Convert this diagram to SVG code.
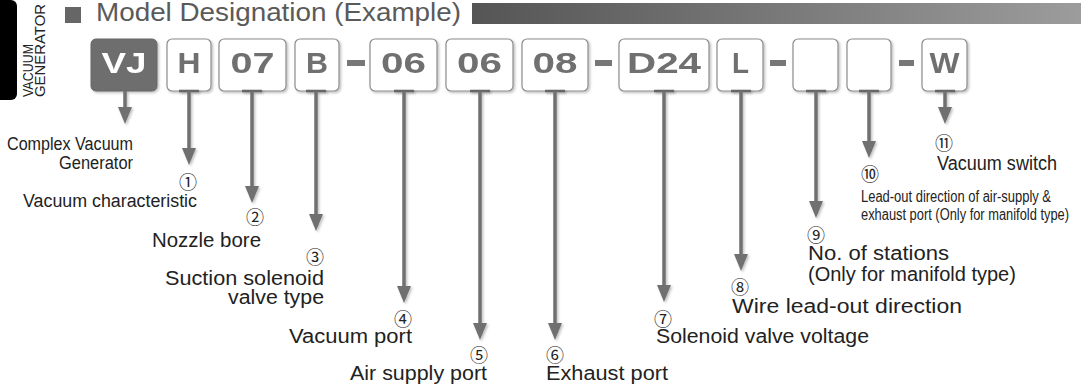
<svg xmlns="http://www.w3.org/2000/svg" width="1081" height="388" viewBox="0 0 1081 388">
<style>
.box{fill:#fff;stroke:#8c8c8c;stroke-width:1.2}
.boxd{fill:#6e6e6e;stroke:#666;stroke-width:1}
.code{font-family:"Liberation Sans",Arial,sans-serif;font-weight:bold;font-size:29px;fill:#707070;text-anchor:middle}
.codew{fill:#fff}
.dash{fill:#777}
.ln{stroke:#707070;stroke-width:3.5;fill:none}
.tick{stroke:#666;stroke-width:2.5}
.lbl{font-family:"Liberation Sans",Arial,sans-serif;font-size:20px;fill:#222}
.cnd{font-family:"Liberation Sans",Arial,sans-serif;font-size:18px;fill:#222}
.sml{font-family:"Liberation Sans",Arial,sans-serif;font-size:16px;fill:#222}
.num{font-family:"Noto Sans CJK JP","DejaVu Sans",sans-serif;font-size:18px;fill:#222;text-anchor:middle;dominant-baseline:central}
.side{font-family:"Liberation Sans",Arial,sans-serif;font-size:14px;fill:#222}
</style>
<defs>
<linearGradient id="bar" x1="0" y1="0" x2="1" y2="0">
<stop offset="0" stop-color="#555"/>
<stop offset="1" stop-color="#9c9c9c"/>
</linearGradient>
<filter id="sh" x="-20%" y="-20%" width="140%" height="140%">
<feDropShadow dx="1.5" dy="1.5" stdDeviation="1" flood-color="#000" flood-opacity="0.25"/>
</filter>
<marker id="ah" viewBox="0 0 17 14" refX="5" refY="7" markerWidth="17" markerHeight="14" markerUnits="userSpaceOnUse" orient="auto">
<path d="M0,0 L17,7 L0,14 z" fill="#707070"/>
</marker>
</defs>

<g id="side-tab">
<path d="M0,0 H11 A6,6 0 0 1 17,6 V94 A6,6 0 0 1 11,100 H0 z" fill="#000"/>
<text class="side" transform="translate(33,97) rotate(-90)" textLength="53" lengthAdjust="spacingAndGlyphs">VACUUM</text>
<text class="side" transform="translate(45,97) rotate(-90)" textLength="93" lengthAdjust="spacingAndGlyphs">GENERATOR</text>
</g>

<g id="header">
<rect x="65" y="7" width="16" height="16" fill="#666"/>
<text x="96" y="21" font-family="'Liberation Sans',Arial,sans-serif" font-size="25" fill="#5a5a5a" textLength="365" lengthAdjust="spacingAndGlyphs">Model Designation (Example)</text>
<rect x="472" y="3" width="609" height="21" fill="url(#bar)"/>
</g>

<g id="dashes">
<rect class="dash" x="347" y="60" width="18" height="6"/>
<rect class="dash" x="595" y="60" width="17" height="6"/>
<rect class="dash" x="770" y="60" width="16" height="6"/>
<rect class="dash" x="899" y="60" width="15" height="6"/>
</g>

<g id="box-vj" filter="url(#sh)"><rect class="boxd" x="91" y="39" width="66" height="52" rx="5"/><text class="code codew" x="124" y="73" textLength="45" lengthAdjust="spacingAndGlyphs">VJ</text></g>
<g id="box-h" filter="url(#sh)"><rect class="box" x="167" y="39" width="44" height="52" rx="5"/><text class="code" x="189" y="73" textLength="23" lengthAdjust="spacingAndGlyphs">H</text></g>
<g id="box-07" filter="url(#sh)"><rect class="box" x="219" y="39" width="67" height="52" rx="5"/><text class="code" x="252.5" y="73" textLength="44" lengthAdjust="spacingAndGlyphs">07</text></g>
<g id="box-b" filter="url(#sh)"><rect class="box" x="295" y="39" width="44" height="52" rx="5"/><text class="code" x="317" y="73" textLength="22" lengthAdjust="spacingAndGlyphs">B</text></g>
<g id="box-06a" filter="url(#sh)"><rect class="box" x="370" y="39" width="67" height="52" rx="5"/><text class="code" x="403.5" y="73" textLength="45" lengthAdjust="spacingAndGlyphs">06</text></g>
<g id="box-06b" filter="url(#sh)"><rect class="box" x="446" y="39" width="67" height="52" rx="5"/><text class="code" x="479.5" y="73" textLength="45" lengthAdjust="spacingAndGlyphs">06</text></g>
<g id="box-08" filter="url(#sh)"><rect class="box" x="522" y="39" width="66" height="52" rx="5"/><text class="code" x="555" y="73" textLength="45" lengthAdjust="spacingAndGlyphs">08</text></g>
<g id="box-d24" filter="url(#sh)"><rect class="box" x="619" y="39" width="90" height="52" rx="5"/><text class="code" x="664" y="73" textLength="74" lengthAdjust="spacingAndGlyphs">D24</text></g>
<g id="box-l" filter="url(#sh)"><rect class="box" x="717" y="39" width="46" height="52" rx="5"/><text class="code" x="740.5" y="73" textLength="17" lengthAdjust="spacingAndGlyphs">L</text></g>
<g id="box-9" filter="url(#sh)"><rect class="box" x="793" y="39" width="45" height="52" rx="5"/></g>
<g id="box-10" filter="url(#sh)"><rect class="box" x="847" y="39" width="44" height="52" rx="5"/></g>
<g id="box-w" filter="url(#sh)"><rect class="box" x="922" y="39" width="45" height="52" rx="5"/><text class="code" x="944.5" y="73" textLength="30" lengthAdjust="spacingAndGlyphs">W</text></g>

<g id="connectors" filter="url(#sh)">
<line class="tick" x1="179" y1="91" x2="199" y2="91"/>
<line class="tick" x1="242" y1="91" x2="262" y2="91"/>
<line class="tick" x1="306" y1="91" x2="326" y2="91"/>
<line class="tick" x1="394" y1="91" x2="414" y2="91"/>
<line class="tick" x1="470" y1="91" x2="490" y2="91"/>
<line class="tick" x1="545" y1="91" x2="565" y2="91"/>
<line class="tick" x1="654" y1="91" x2="674" y2="91"/>
<line class="tick" x1="731" y1="91" x2="751" y2="91"/>
<line class="tick" x1="806" y1="91" x2="826" y2="91"/>
<line class="tick" x1="859" y1="91" x2="879" y2="91"/>
<line class="tick" x1="935" y1="91" x2="955" y2="91"/>
<line class="ln" x1="125" y1="91" x2="125" y2="112" marker-end="url(#ah)"/>
<line class="ln" x1="189" y1="91" x2="189" y2="153" marker-end="url(#ah)"/>
<line class="ln" x1="252" y1="91" x2="252" y2="191" marker-end="url(#ah)"/>
<line class="ln" x1="316" y1="91" x2="316" y2="219" marker-end="url(#ah)"/>
<line class="ln" x1="404" y1="91" x2="404" y2="291" marker-end="url(#ah)"/>
<line class="ln" x1="480" y1="91" x2="480" y2="328" marker-end="url(#ah)"/>
<line class="ln" x1="555" y1="91" x2="555" y2="328" marker-end="url(#ah)"/>
<line class="ln" x1="664" y1="91" x2="664" y2="290" marker-end="url(#ah)"/>
<line class="ln" x1="741" y1="91" x2="741" y2="259" marker-end="url(#ah)"/>
<line class="ln" x1="816" y1="91" x2="816" y2="206" marker-end="url(#ah)"/>
<line class="ln" x1="869" y1="91" x2="869" y2="146" marker-end="url(#ah)"/>
<line class="ln" x1="945" y1="91" x2="945" y2="112" marker-end="url(#ah)"/>
</g>

<g id="labels">
<text class="cnd" x="7" y="150" textLength="126" lengthAdjust="spacingAndGlyphs">Complex Vacuum</text>
<text class="cnd" x="59" y="169" textLength="74" lengthAdjust="spacingAndGlyphs">Generator</text>
<text class="num" x="188" y="181">①</text>
<text class="cnd" x="23" y="207" textLength="174" lengthAdjust="spacingAndGlyphs">Vacuum characteristic</text>
<text class="num" x="255" y="216">②</text>
<text class="lbl" x="152" y="247" textLength="109" lengthAdjust="spacingAndGlyphs">Nozzle bore</text>
<text class="num" x="315" y="255.5">③</text>
<text class="lbl" x="165" y="285" textLength="159" lengthAdjust="spacingAndGlyphs">Suction solenoid</text>
<text class="lbl" x="228" y="304" textLength="96" lengthAdjust="spacingAndGlyphs">valve type</text>
<text class="num" x="403" y="317.5">④</text>
<text class="lbl" x="289" y="343" textLength="123" lengthAdjust="spacingAndGlyphs">Vacuum port</text>
<text class="num" x="479" y="354">⑤</text>
<text class="lbl" x="350" y="380" textLength="137" lengthAdjust="spacingAndGlyphs">Air supply port</text>
<text class="num" x="555" y="354">⑥</text>
<text class="lbl" x="546" y="380" textLength="122" lengthAdjust="spacingAndGlyphs">Exhaust port</text>
<text class="num" x="663" y="317.5">⑦</text>
<text class="lbl" x="656" y="343" textLength="213" lengthAdjust="spacingAndGlyphs">Solenoid valve voltage</text>
<text class="num" x="740" y="286">⑧</text>
<text class="lbl" x="732" y="313" textLength="230" lengthAdjust="spacingAndGlyphs">Wire lead-out direction</text>
<text class="num" x="816" y="234">⑨</text>
<text class="lbl" x="808" y="260" textLength="141" lengthAdjust="spacingAndGlyphs">No. of stations</text>
<text class="lbl" x="808" y="281">(Only for manifold type)</text>
<text class="num" x="870" y="172.5">⑩</text>
<text class="sml" x="861" y="202" textLength="190" lengthAdjust="spacingAndGlyphs">Lead-out direction of air-supply &amp;</text>
<text class="sml" x="861" y="220" textLength="208" lengthAdjust="spacingAndGlyphs">exhaust port (Only for manifold type)</text>
<text class="num" x="944" y="141.5">⑪</text>
<text class="lbl" x="937" y="170" textLength="120" lengthAdjust="spacingAndGlyphs">Vacuum switch</text>
</g>
</svg>
